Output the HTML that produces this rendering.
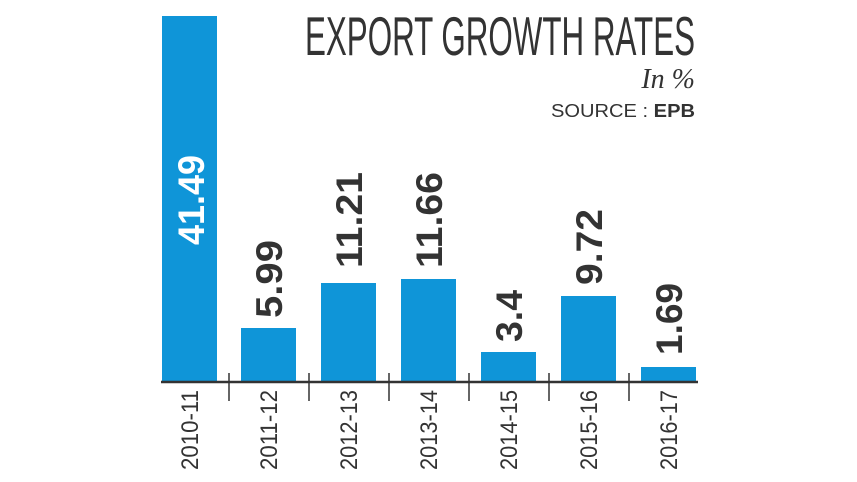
<!DOCTYPE html>
<html><head><meta charset="utf-8"><style>html,body{margin:0;padding:0;background:#fff}svg{display:block}</style></head>
<body>
<svg width="857" height="482" viewBox="0 0 857 482" xmlns="http://www.w3.org/2000/svg" font-family="Liberation Sans, sans-serif">
<rect width="857" height="482" fill="#fff"/>
<g fill="#0f95d8">
<rect x="162" y="16" width="55" height="366"/>
<rect x="241" y="328" width="55" height="54"/>
<rect x="321" y="283" width="55" height="99"/>
<rect x="401" y="279" width="55" height="103"/>
<rect x="481" y="352" width="55" height="30"/>
<rect x="561" y="296" width="55" height="86"/>
<rect x="641" y="367" width="55" height="15"/>
</g>
<g stroke="#333" stroke-width="2.5">
<line x1="161" y1="382" x2="698" y2="382"/>
</g>
<g stroke="#333" stroke-width="1.5">
<line x1="229" y1="373" x2="229" y2="401"/>
<line x1="309" y1="373" x2="309" y2="401"/>
<line x1="389" y1="373" x2="389" y2="401"/>
<line x1="469" y1="373" x2="469" y2="401"/>
<line x1="549" y1="373" x2="549" y2="401"/>
<line x1="629" y1="373" x2="629" y2="401"/>
</g>
<g fill="#333" font-size="24">
<text transform="translate(198,470) rotate(-90)" textLength="80" lengthAdjust="spacingAndGlyphs">2010-11</text>
<text transform="translate(277,470) rotate(-90)" textLength="80" lengthAdjust="spacingAndGlyphs">2011-12</text>
<text transform="translate(357,470) rotate(-90)" textLength="80" lengthAdjust="spacingAndGlyphs">2012-13</text>
<text transform="translate(437,470) rotate(-90)" textLength="80" lengthAdjust="spacingAndGlyphs">2013-14</text>
<text transform="translate(517,470) rotate(-90)" textLength="80" lengthAdjust="spacingAndGlyphs">2014-15</text>
<text transform="translate(597,470) rotate(-90)" textLength="80" lengthAdjust="spacingAndGlyphs">2015-16</text>
<text transform="translate(677,470) rotate(-90)" textLength="80" lengthAdjust="spacingAndGlyphs">2016-17</text>
</g>
<g font-size="37" font-weight="bold">
<text fill="#fff" transform="translate(204,245) rotate(-90)" textLength="90" lengthAdjust="spacingAndGlyphs">41.49</text>
<text fill="#333" transform="translate(282,318) rotate(-90)" textLength="78" lengthAdjust="spacingAndGlyphs">5.99</text>
<text fill="#333" transform="translate(362,268) rotate(-90)" textLength="96" lengthAdjust="spacingAndGlyphs">11.21</text>
<text fill="#333" transform="translate(442,268) rotate(-90)" textLength="96" lengthAdjust="spacingAndGlyphs">11.66</text>
<text fill="#333" transform="translate(522,342) rotate(-90)" textLength="52" lengthAdjust="spacingAndGlyphs">3.4</text>
<text fill="#333" transform="translate(602,285) rotate(-90)" textLength="76" lengthAdjust="spacingAndGlyphs">9.72</text>
<text fill="#333" transform="translate(682,355) rotate(-90)" textLength="72" lengthAdjust="spacingAndGlyphs">1.69</text>
</g>
<text x="305" y="55" font-size="55" fill="#333" textLength="390" lengthAdjust="spacingAndGlyphs">EXPORT GROWTH RATES</text>
<text x="695" y="88" font-size="28" fill="#333" font-style="italic" font-family="Liberation Serif, serif" text-anchor="end">In %</text>
<text x="551" y="117" font-size="18" fill="#333" textLength="144" lengthAdjust="spacingAndGlyphs">SOURCE : <tspan font-weight="bold">EPB</tspan></text>
</svg>
</body></html>
